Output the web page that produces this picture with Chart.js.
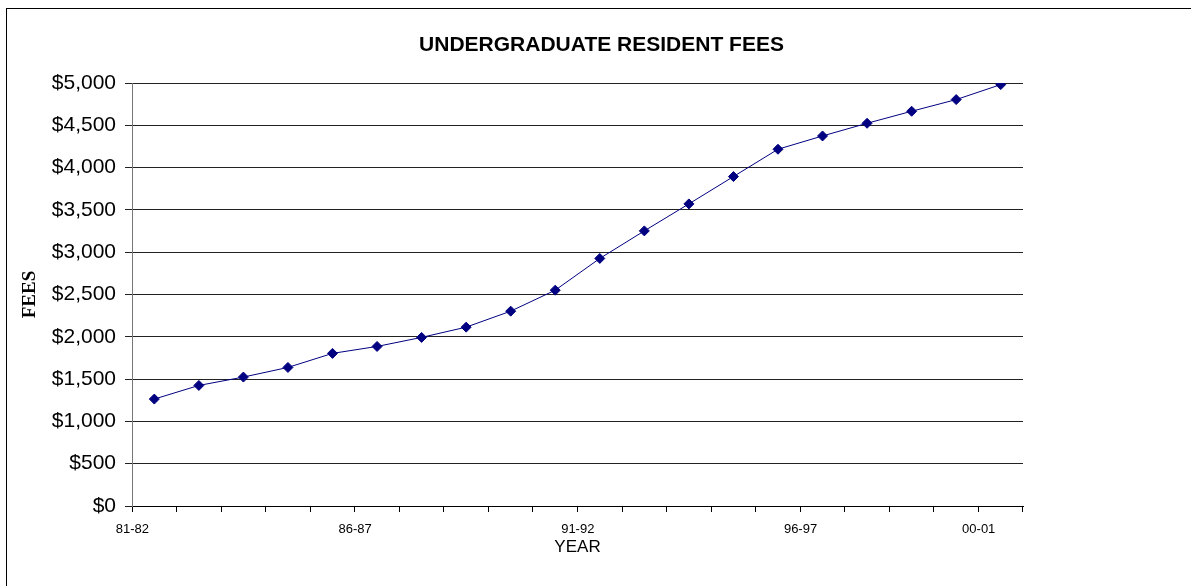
<!DOCTYPE html>
<html>
<head>
<meta charset="utf-8">
<script src="https://cdn.jsdelivr.net/npm/chart.js@4"></script>
<style>
    html, body { margin: 0; padding: 0; background: #fff; overflow: hidden; }
    #wrap { position: absolute; left: 0; top: 0; width: 1191px; height: 586px; }
    #frame {
        position: absolute; left: 6px; top: 8px; width: 1400px; height: 800px;
        border: 1px solid #000; pointer-events: none;
    }
</style>
</head>
<body>
<div id="wrap"><canvas id="feesChart"></canvas></div>
<div id="frame"></div>
<script>
// School years on the x axis
const years = ['81-82', '82-83', '83-84', '84-85', '85-86', '86-87', '87-88', '88-89', '89-90', '90-91',
               '91-92', '92-93', '93-94', '94-95', '95-96', '96-97', '97-98', '98-99', '99-00', '00-01'];

// Undergraduate resident fees (dollars)
const fees = [1264, 1425, 1524, 1638, 1804, 1886, 1993, 2114, 2303, 2551,
              2926, 3252, 3571, 3894, 4217, 4374, 4524, 4666, 4804, 4981];

// Only these year labels are printed under the axis
const shownYears = ['81-82', '86-87', '91-92', '96-97', '00-01'];

const chartTitle = 'UNDERGRADUATE RESIDENT FEES';

// Title sits a bit right of the plot centre, like the original sheet
const titlePlugin = {
    id: 'sheetTitle',
    afterDraw(chart) {
        const { ctx, chartArea } = chart;
        ctx.save();
        ctx.font = 'bold 21px "Liberation Sans"';
        ctx.fillStyle = '#000';
        ctx.textAlign = 'center';
        ctx.textBaseline = 'middle';
        ctx.fillText(chartTitle, (chartArea.left + chartArea.right) / 2 + 24, 45);
        ctx.restore();
    }
};

document.addEventListener('DOMContentLoaded', () => {
    const ctx = document.getElementById('feesChart').getContext('2d');

    new Chart(ctx, {
        type: 'line',
        data: {
            labels: years,
            datasets: [{
                label: 'Fees',
                data: fees,
                borderColor: '#000080',
                backgroundColor: '#000080',
                borderWidth: 1,
                pointStyle: 'rectRot',
                pointRadius: 5,
                pointBorderWidth: 1,
                tension: 0
            }]
        },
        plugins: [titlePlugin],
        options: {
            responsive: true,
            maintainAspectRatio: false,
            animation: false,
            layout: { padding: { left: 12, right: 168, top: 83, bottom: 28.3 } },
            plugins: {
                legend: { display: false },
                tooltip: { enabled: false },
                title: { display: false }
            },
            scales: {
                x: {
                    offset: true,
                    grid: {
                        offset: true,
                        drawOnChartArea: false,
                        color: '#000',
                        tickLength: 6
                    },
                    border: { color: '#000', width: 1 },
                    ticks: {
                        autoSkip: false,
                        maxRotation: 0,
                        padding: 10.5,
                        labelOffset: -22,
                        color: '#000',
                        font: { family: 'Liberation Sans', size: 13, lineHeight: 1 },
                        callback: function (value) {
                            const y = this.getLabelForValue(value);
                            return shownYears.includes(y) ? y : '';
                        }
                    },
                    title: {
                        display: true,
                        text: 'YEAR',
                        color: '#000',
                        font: { family: 'Liberation Sans', size: 17 },
                        padding: { top: -8.7, bottom: 0 }
                    }
                },
                y: {
                    min: 0,
                    max: 5000,
                    grid: { color: '#222', tickLength: 7 },
                    border: { color: '#777', width: 1 },
                    ticks: {
                        stepSize: 500,
                        padding: 9,
                        color: '#000',
                        font: { family: 'Liberation Sans', size: 21 },
                        callback: v => '$' + v.toLocaleString('en-US')
                    },
                    title: {
                        display: true,
                        text: 'FEES',
                        color: '#000',
                        font: { family: 'Liberation Serif', size: 19, weight: 'bold' },
                        padding: { top: 7, bottom: 1 }
                    }
                }
            }
        }
    });
});
</script>
</body>
</html>
